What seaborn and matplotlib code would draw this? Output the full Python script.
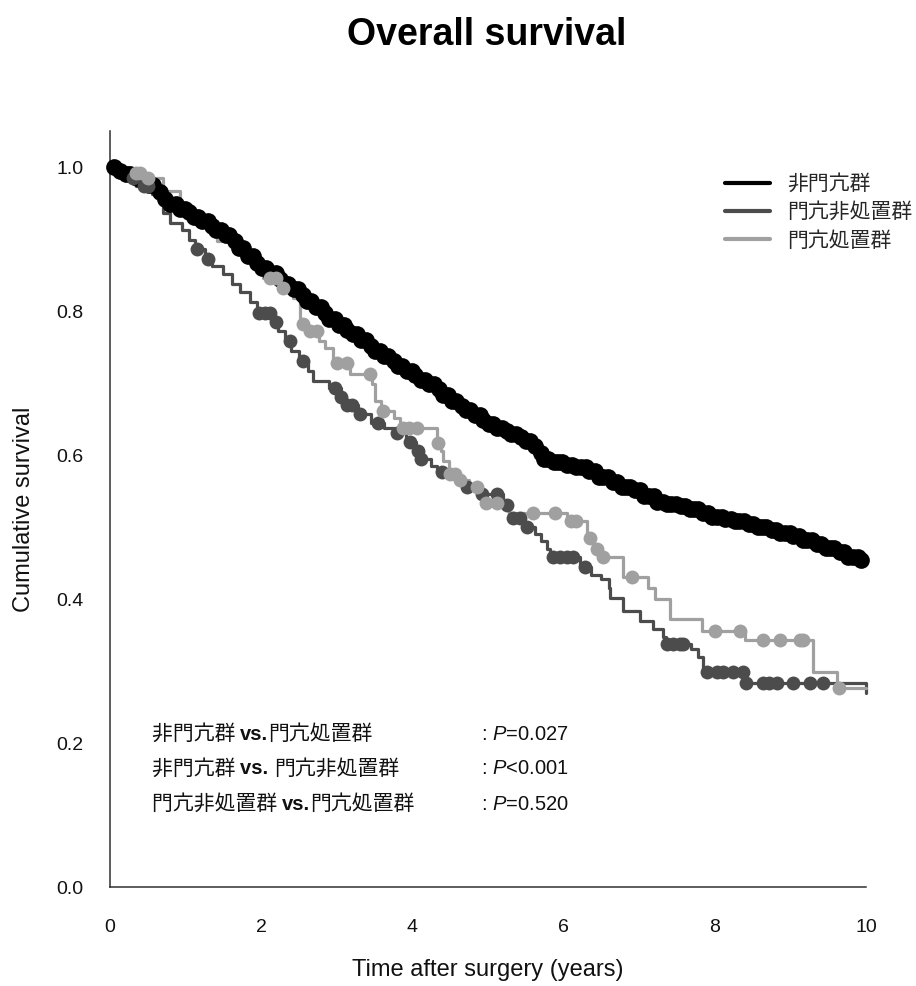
import numpy as np
import pandas as pd
import matplotlib
matplotlib.use("Agg")
import matplotlib.pyplot as plt
from matplotlib.lines import Line2D
import seaborn as sns

# ---------------- data ----------------
groups = ["非門亢群", "門亢非処置群", "門亢処置群"]
colors = ["#000000", "#4c4c4c", "#a0a0a0"]

# 非門亢群 (event times, survival after event)
black_t = [0.0, 0.10, 0.20, 0.30, 0.40, 0.50, 0.60, 0.70, 0.78, 0.90, 1.00, 1.10, 1.20, 1.30, 1.40,
           1.50, 1.60, 1.70, 1.80, 1.90, 2.00, 2.10, 2.20, 2.30, 2.40, 2.50, 2.60, 2.70, 2.80, 2.90,
           3.00, 3.10, 3.20, 3.30, 3.40, 3.50, 3.60, 3.70, 3.80, 3.90, 4.00, 4.10, 4.20, 4.30, 4.40,
           4.50, 4.60, 4.70, 4.80, 4.90, 5.00, 5.10, 5.20, 5.30, 5.40, 5.50, 5.60, 5.68, 5.72, 5.85,
           6.00, 6.15, 6.30, 6.45, 6.60, 6.75, 6.90, 7.05, 7.20, 7.35, 7.50, 7.65, 7.80, 7.95, 8.10,
           8.25, 8.40, 8.55, 8.70, 8.85, 9.00, 9.15, 9.30, 9.45, 9.60, 9.75, 9.90]
black_s = [1.0, 0.995, 0.990, 0.985, 0.980, 0.975, 0.965, 0.955, 0.948, 0.942, 0.937, 0.931, 0.925, 0.918, 0.912,
           0.905, 0.897, 0.887, 0.876, 0.867, 0.860, 0.853, 0.845, 0.838, 0.830, 0.822, 0.814, 0.806, 0.797, 0.789,
           0.780, 0.774, 0.768, 0.760, 0.752, 0.745, 0.738, 0.731, 0.724, 0.717, 0.711, 0.704, 0.698, 0.691, 0.683,
           0.675, 0.668, 0.662, 0.655, 0.649, 0.643, 0.638, 0.634, 0.629, 0.625, 0.620, 0.613, 0.603, 0.595, 0.590,
           0.586, 0.583, 0.578, 0.570, 0.562, 0.556, 0.551, 0.543, 0.535, 0.532, 0.529, 0.525, 0.519, 0.514, 0.511,
           0.508, 0.504, 0.500, 0.496, 0.491, 0.487, 0.482, 0.477, 0.471, 0.465, 0.459, 0.454]
black_cens = [0.05, 0.13, 0.21, 0.27, 0.36, 0.43, 0.52, 0.57, 0.66, 0.73, 0.80, 0.87, 0.92, 0.99, 1.05,
              1.11, 1.17, 1.22, 1.29, 1.35, 1.40, 1.47, 1.53, 1.58, 1.65, 1.71, 1.76, 1.83, 1.89, 1.94,
              2.01, 2.07, 2.12, 2.19, 2.25, 2.31, 2.36, 2.43, 2.49, 2.55, 2.61, 2.66, 2.73, 2.79, 2.85,
              2.90, 2.97, 3.03, 3.09, 3.14, 3.21, 3.27, 3.32, 3.39, 3.45, 3.50, 3.57, 3.63, 3.68, 3.75,
              3.81, 3.86, 3.93, 3.99, 4.04, 4.11, 4.17, 4.22, 4.29, 4.35, 4.40, 4.47, 4.53, 4.58, 4.65,
              4.71, 4.76, 4.83, 4.89, 4.94, 5.01, 5.07, 5.12, 5.19, 5.25, 5.31, 5.37, 5.43, 5.50, 5.56,
              5.62, 5.70, 5.74, 5.80, 5.87, 5.93, 5.98, 6.05, 6.11, 6.16, 6.23, 6.29, 6.34, 6.41, 6.47, 6.52,
              6.59, 6.65, 6.70, 6.77, 6.83, 6.88, 6.95, 7.01, 7.06, 7.13, 7.19, 7.24, 7.31, 7.37, 7.42,
              7.49, 7.55, 7.60, 7.67, 7.73, 7.78, 7.85, 7.91, 7.96, 8.03, 8.09, 8.14, 8.21, 8.27, 8.32,
              8.39, 8.45, 8.50, 8.57, 8.63, 8.68, 8.75, 8.81, 8.86, 8.93, 8.99, 9.04, 9.11, 9.17, 9.22,
              9.29, 9.35, 9.40, 9.47, 9.53, 9.58, 9.65, 9.71, 9.76, 9.83, 9.89, 9.94]

# 門亢非処置群
dark_t = [0.0, 0.20, 0.35, 0.55, 0.70, 0.80, 0.95, 1.05, 1.12, 1.25, 1.35, 1.50, 1.62, 1.72, 1.85,
          1.95, 2.15, 2.22, 2.32, 2.40, 2.50, 2.62, 2.68, 2.90, 3.05, 3.12, 3.28, 3.45, 3.62, 3.75,
          3.92, 4.05, 4.10, 4.25, 4.33, 4.50, 4.68, 4.90, 5.20, 5.28, 5.48, 5.62, 5.70, 5.78, 5.82,
          6.22, 6.36, 6.50, 6.60, 6.62, 6.78, 7.01, 7.18, 7.31, 7.35, 7.68, 7.78, 7.85, 8.40, 10.0]
dark_s = [1.0, 0.985, 0.974, 0.962, 0.936, 0.922, 0.912, 0.898, 0.886, 0.872, 0.862, 0.852, 0.838, 0.826, 0.812,
          0.797, 0.785, 0.772, 0.758, 0.744, 0.731, 0.716, 0.703, 0.693, 0.680, 0.670, 0.657, 0.645, 0.638, 0.630,
          0.618, 0.605, 0.595, 0.585, 0.576, 0.568, 0.556, 0.546, 0.530, 0.512, 0.500, 0.490, 0.480, 0.470, 0.458,
          0.445, 0.434, 0.428, 0.415, 0.402, 0.384, 0.370, 0.359, 0.347, 0.338, 0.331, 0.319, 0.298, 0.284, 0.270]
dark_cens = [0.30, 0.45, 0.50, 1.15, 1.30, 1.97, 2.05, 2.12, 2.20, 2.38, 2.55, 2.97, 3.05, 3.14, 3.20,
             3.31, 3.55, 3.80, 3.97, 4.07, 4.12, 4.39, 4.72, 4.92, 5.12, 5.25, 5.33, 5.42, 5.51, 5.86,
             5.95, 6.05, 6.12, 6.28, 7.37, 7.45, 7.54, 7.58, 7.90, 8.03, 8.11, 8.24, 8.37, 8.41, 8.64,
             8.72, 8.82, 9.03, 9.26, 9.43]

# 門亢処置群
light_t = [0.0, 0.25, 0.45, 0.70, 0.93, 1.02, 1.19, 1.41, 1.63, 1.80, 1.95, 2.02, 2.25, 2.42, 2.51,
           2.62, 2.76, 2.85, 2.95, 3.17, 3.46, 3.50, 3.58, 3.75, 3.84, 4.33, 4.38, 4.41, 4.48, 4.60,
           4.75, 4.90, 4.97, 5.28, 6.05, 6.31, 6.40, 6.50, 6.79, 7.12, 7.21, 7.41, 7.83, 8.40, 9.30,
           9.62]
light_s = [1.0, 0.992, 0.985, 0.967, 0.950, 0.932, 0.925, 0.897, 0.884, 0.874, 0.865, 0.846, 0.832, 0.818, 0.782,
           0.772, 0.759, 0.748, 0.728, 0.713, 0.699, 0.675, 0.661, 0.652, 0.637, 0.617, 0.605, 0.592, 0.574, 0.565,
           0.555, 0.545, 0.533, 0.520, 0.509, 0.485, 0.470, 0.458, 0.430, 0.415, 0.400, 0.372, 0.356, 0.343, 0.298,
           0.277]
light_cens = [0.35, 0.40, 0.50, 2.12, 2.20, 2.29, 2.55, 2.64, 2.74, 3.00, 3.13, 3.44, 3.61, 3.88, 3.95,
              4.06, 4.34, 4.50, 4.56, 4.63, 4.85, 4.98, 5.12, 5.60, 5.89, 6.10, 6.17, 6.35, 6.44, 6.52,
              6.90, 8.00, 8.33, 8.64, 8.86, 9.13, 9.17, 9.64]

t_end = 10.0

# comparison rows: (left group, separator, right group, p-value text)
comp_left = ["非門亢群 ", "非門亢群 ", "門亢非処置群 "]
comp_vs = ["vs.", "vs. ", "vs."]
comp_right = ["門亢処置群", "門亢非処置群", "門亢処置群"]
p_texts = [": $\\mathit{P}$=0.027", ": $\\mathit{P}$<0.001", ": $\\mathit{P}$=0.520"]

x_ticks = [0, 2, 4, 6, 8, 10]
y_ticks = [0.0, 0.2, 0.4, 0.6, 0.8, 1.0]
y_ticklabels = ["0.0", "0.2", "0.4", "0.6", "0.8", "1.0"]

# ---------------- style ----------------
sns.set_theme(style="white")
plt.rcParams["font.family"] = ["Liberation Sans", "Noto Sans CJK JP"]
plt.rcParams["mathtext.fontset"] = "custom"
plt.rcParams["mathtext.rm"] = "Liberation Sans"
plt.rcParams["mathtext.it"] = "Liberation Sans:italic"
plt.rcParams["mathtext.bf"] = "Liberation Sans:bold"

fig = plt.figure(figsize=(9.16, 9.86), dpi=100)
ax = fig.add_axes([110 / 916, 1 - 887 / 986, 756 / 916, 756 / 986])

series = [(black_t, black_s, black_cens), (dark_t, dark_s, dark_cens), (light_t, light_s, light_cens)]
marker_sizes = [145, 100, 100]

for (g, col, ms, (tt, ss, cc)) in zip(groups, colors, marker_sizes, series):
    line_df = pd.DataFrame({"time": list(tt) + [t_end], "surv": list(ss) + [ss[-1]]})
    sns.lineplot(data=line_df, x="time", y="surv", ax=ax, color=col, estimator=None, sort=False,
                 drawstyle="steps-post", linewidth=2.3, clip_on=False, legend=False)
    idx = np.searchsorted(np.asarray(tt), np.asarray(cc), side="right") - 1
    cens_df = pd.DataFrame({"time": cc, "surv": np.asarray(ss)[idx]})
    sns.scatterplot(data=cens_df, x="time", y="surv", ax=ax, color=col, s=ms, linewidth=0,
                    marker="o", clip_on=False, legend=False, zorder=3)

ax.set_xlim(0, 10)
ax.set_ylim(0, 1.05)
ax.set_xticks(x_ticks)
ax.set_xticklabels([str(v) for v in x_ticks])
ax.set_yticks(y_ticks)
ax.set_yticklabels(y_ticklabels)
for side in ["top", "right"]:
    ax.spines[side].set_visible(False)
for side in ["left", "bottom"]:
    ax.spines[side].set_color("#303030")
    ax.spines[side].set_linewidth(1.1)
ax.tick_params(axis="both", direction="out", length=11, width=1.1, color="#303030",
               labelsize=14, labelcolor="#111111")
ax.tick_params(axis="x", pad=12)
ax.tick_params(axis="y", pad=8)
ax.grid(False)

ax.set_xlabel("Time after surgery (years)", fontsize=17, color="#111111", va="center")
ax.xaxis.set_label_coords(0.5, -83 / 756)
ax.set_ylabel("Cumulative survival", fontsize=17, color="#111111", va="center")
ax.yaxis.set_label_coords(-86 / 756, 0.5)

fig.text(487 / 916, 1 - 35 / 986, "Overall survival", fontsize=27, fontweight="bold",
         ha="center", va="center", color="#000000")

handles = [Line2D([0], [0], color=c, linewidth=3) for c in colors]
ax.legend(handles, groups, loc="upper left", bbox_to_anchor=((725 - 110) / 756, (887 - 173) / 756),
          frameon=False, handlelength=2.15, handletextpad=0.85, labelspacing=0.3,
          borderpad=0, borderaxespad=0,
          prop={"family": ["Noto Sans CJK JP"], "size": 15})

rows_y = [734, 769, 804]
cjk = ["Noto Sans CJK JP"]
for left, vs, right, ptxt, yy in zip(comp_left, comp_vs, comp_right, p_texts, rows_y):
    y_ax = (887 - yy) / 756
    t1 = ax.text((152 - 110) / 756, y_ax, left, fontsize=15, va="center", ha="left",
                 family=cjk, color="#111111", transform=ax.transAxes)
    t2 = ax.annotate(vs, xy=(1, 0.5), xycoords=t1, fontsize=14.5, fontweight="bold",
                     va="center", ha="left", family=["Liberation Sans"], color="#111111")
    ax.annotate(right, xy=(1, 0.5), xycoords=t2, fontsize=15, va="center", ha="left",
                family=cjk, color="#111111")
    ax.text((481 - 110) / 756, y_ax, ptxt, fontsize=14.5, va="center", ha="left",
            family=["Liberation Sans"], color="#111111", transform=ax.transAxes)

fig.savefig("out.png", dpi=100)
